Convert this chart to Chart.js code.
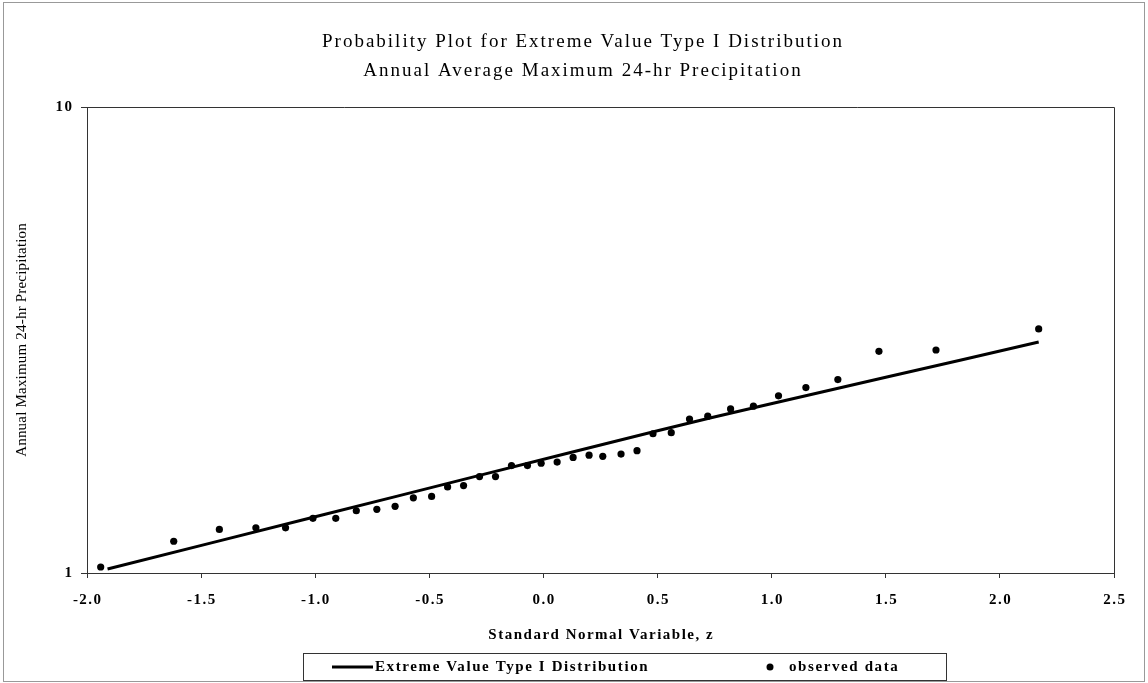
<!DOCTYPE html>
<html><head><meta charset="utf-8">
<script src="https://cdn.jsdelivr.net/npm/chart.js@4.4.0/dist/chart.umd.min.js"></script>
<style>html,body{margin:0;padding:0;background:#fff;overflow:hidden}canvas{display:block}</style>
</head><body>
<canvas id="c" width="1148" height="683"></canvas>
<script>
const titleLines = ['Probability Plot for Extreme Value Type I Distribution', 'Annual Average Maximum 24-hr Precipitation'];
const xAxisTitle = 'Standard Normal Variable, z';
const yAxisTitle = 'Annual Maximum 24-hr Precipitation';
const lineLabel = 'Extreme Value Type I Distribution';
const pointLabel = 'observed data';
const xTickValues = [-2.0, -1.5, -1.0, -0.5, 0.0, 0.5, 1.0, 1.5, 2.0, 2.5];
const yTickValues = [1, 10];
const observedZ = [-1.94,-1.62,-1.42,-1.26,-1.13,-1.01,-0.91,-0.82,-0.73,-0.65,-0.57,-0.49,-0.42,-0.35,-0.28,-0.21,-0.14,-0.07,-0.01,0.06,0.13,0.20,0.26,0.34,0.41,0.48,0.56,0.64,0.72,0.82,0.92,1.03,1.15,1.29,1.47,1.72,2.17];
const observedP = [1.03,1.17,1.24,1.25,1.25,1.31,1.31,1.36,1.37,1.39,1.45,1.46,1.53,1.54,1.61,1.61,1.70,1.70,1.72,1.73,1.77,1.79,1.78,1.80,1.83,1.99,2.00,2.14,2.17,2.25,2.28,2.40,2.50,2.60,2.99,3.01,3.34];
const fitZ = [-1.91, -1.0, -0.28, 0.5, 0.95, 1.5, 2.17];
const fitP = [1.02, 1.32, 1.62, 2.02, 2.28, 2.63, 3.13];

const FONT = '"Liberation Serif", "Times New Roman", serif';

function spacedText(ctx, text, x, y, align, font, spacing) {
  ctx.save();
  ctx.font = font;
  ctx.letterSpacing = spacing + 'px';
  ctx.textBaseline = 'middle';
  ctx.textAlign = 'left';
  const w = ctx.measureText(text).width - spacing; // drop trailing gap
  let x0 = x;
  if (align === 'center') x0 = x - w / 2;
  else if (align === 'right') x0 = x - w;
  ctx.fillText(text, x0, y);
  ctx.restore();
}

const decorPlugin = {
  id: 'decor',
  beforeDatasetsDraw(chart) {
    const {ctx, chartArea: a} = chart;
    ctx.save();
    ctx.strokeStyle = '#333';
    ctx.lineWidth = 1;
    ctx.beginPath();
    ctx.moveTo(Math.round(a.left) + 0.5, Math.round(a.top) + 0.5);
    ctx.lineTo(Math.round(a.right) + 0.5, Math.round(a.top) + 0.5);
    ctx.lineTo(Math.round(a.right) + 0.5, Math.round(a.bottom) + 0.5);
    ctx.stroke();
    ctx.restore();
  },
  afterDraw(chart) {
    const {ctx, chartArea: a} = chart;
    const xs = chart.scales.x, ys = chart.scales.y;
    ctx.save();
    ctx.fillStyle = '#000';
    // outer chart border
    ctx.strokeStyle = '#999';
    ctx.lineWidth = 1;
    ctx.strokeRect(3.5, 2.5, 1141, 679);

    // chart title
    const tf = '19px ' + FONT;
    spacedText(ctx, titleLines[0], 582, 42, 'center', tf, 2);
    spacedText(ctx, titleLines[1], 582, 71, 'center', tf, 2);

    // tick labels, placed by the chart's own scales
    const kf = 'bold 15px ' + FONT;
    xs.ticks.forEach(t => {
      spacedText(ctx, Number(t.value).toFixed(1), xs.getPixelForValue(t.value), 600, 'center', kf, 1.5);
    });
    ys.ticks.forEach(t => {
      spacedText(ctx, String(t.value), a.left - 15, ys.getPixelForValue(t.value), 'right', kf, 1.5);
    });

    // x axis title
    spacedText(ctx, xAxisTitle, (a.left + a.right) / 2, 635, 'center', 'bold 15px ' + FONT, 1.5);

    // y axis title (rotated)
    ctx.save();
    ctx.translate(22, (a.top + a.bottom) / 2);
    ctx.rotate(-Math.PI / 2);
    spacedText(ctx, yAxisTitle, 0, 0, 'center', '15px ' + FONT, 0.2);
    ctx.restore();

    // legend
    ctx.strokeStyle = '#333';
    ctx.lineWidth = 1;
    ctx.strokeRect(303.5, 653.5, 643, 27);
    const ly = 667;
    ctx.strokeStyle = '#000';
    ctx.lineWidth = 3;
    ctx.beginPath();
    ctx.moveTo(332, ly);
    ctx.lineTo(373, ly);
    ctx.stroke();
    spacedText(ctx, lineLabel, 375, ly, 'left', 'bold 15px ' + FONT, 1.6);
    ctx.beginPath();
    ctx.arc(770, ly, 3.5, 0, Math.PI * 2);
    ctx.fill();
    spacedText(ctx, pointLabel, 789, ly, 'left', 'bold 15px ' + FONT, 1.6);
    ctx.restore();
  }
};

new Chart(document.getElementById('c'), {
  type: 'scatter',
  data: {
    datasets: [
      {
        label: pointLabel,
        data: observedZ.map((z, i) => ({x: z, y: observedP[i]})),
        showLine: false,
        pointRadius: 3.6,
        pointBackgroundColor: '#000',
        pointBorderWidth: 0,
        order: 0
      },
      {
        label: lineLabel,
        data: fitZ.map((z, i) => ({x: z, y: fitP[i]})),
        showLine: true,
        borderColor: '#000',
        borderWidth: 3,
        pointRadius: 0,
        tension: 0.3,
        order: 1
      }
    ]
  },
  options: {
    responsive: false,
    animation: false,
    devicePixelRatio: 1,
    layout: {padding: {top: 107, left: 0, right: 34, bottom: 35}},
    plugins: {
      legend: {display: false},
      tooltip: {enabled: false},
      title: {display: false}
    },
    scales: {
      x: {
        type: 'linear',
        min: -2, max: 2.5,
        afterBuildTicks(scale) { scale.ticks = xTickValues.map(v => ({value: v})); },
        afterFit(scale) { scale.height = 75; },
        ticks: {display: false},
        grid: {display: true, drawOnChartArea: false, drawTicks: true, tickLength: 5, color: '#333'},
        border: {display: true, color: '#333', width: 1},
        title: {display: false}
      },
      y: {
        type: 'logarithmic',
        min: 1, max: 10,
        afterBuildTicks(scale) { scale.ticks = yTickValues.map(v => ({value: v})); },
        afterFit(scale) { scale.width = 87; },
        ticks: {display: false},
        grid: {display: true, drawOnChartArea: false, drawTicks: true, tickLength: 6, color: '#333'},
        border: {display: true, color: '#333', width: 1},
        title: {display: false}
      }
    }
  },
  plugins: [decorPlugin]
});
</script>
</body></html>
